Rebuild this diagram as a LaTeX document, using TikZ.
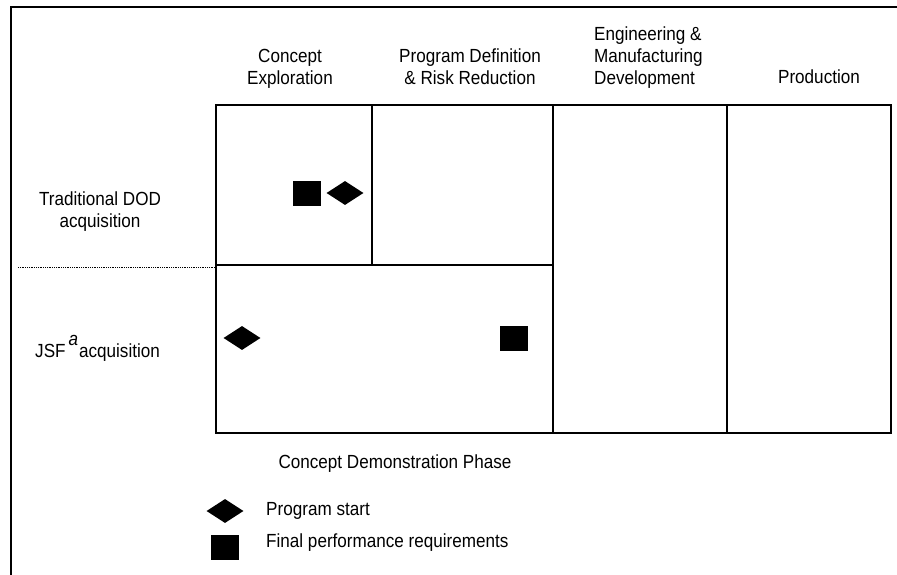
\documentclass[tikz,border=0pt]{standalone}
\usepackage{fontspec}
\setmainfont{Liberation Sans}[FakeStretch=0.9]
\usetikzlibrary{shapes.geometric}
\newcommand{\cstack}[1]{\begin{tabular}[t]{@{}c@{}}#1\end{tabular}}
\newcommand{\lstack}[1]{\begin{tabular}[t]{@{}l@{}}#1\end{tabular}}
\begin{document}
\begin{tikzpicture}[x=1pt,y=-1pt,
  lbl/.style={font=\fontsize{19}{22}\selectfont, inner sep=0pt, anchor=base},
  cell/.style={draw, line width=1.6pt},
  dia/.style={diamond, fill=black, draw=none, minimum width=37pt, minimum height=24pt, inner sep=0pt, aspect=1.55},
  sq/.style={rectangle, fill=black, draw=none, minimum width=28pt, minimum height=25pt, inner sep=0pt}]
\useasboundingbox (0,0) rectangle (897,575);
% outer frame
\draw[line width=1.3pt] (11,575) -- (11,7) -- (897,7);
% grid
\draw[cell] (216,105) rectangle (372,265);
\draw[cell] (372,105) rectangle (553,265);
\draw[cell] (216,265) rectangle (553,433);
\draw[cell] (553,105) rectangle (727,433);
\draw[cell] (727,105) rectangle (891,433);
\coordinate (dl) at (18,267);
\coordinate (dr) at (216,267);
\draw[densely dotted, line width=0.8pt] (dl) -- (dr);
% headers
\node[lbl] (h1) at (290,63) {\cstack{Concept\\Exploration}};
\node[lbl] (h2) at (470,63) {\cstack{Program Definition\\\& Risk Reduction}};
\node[lbl, anchor=base west] (h3) at (594,41) {\lstack{Engineering \&\\Manufacturing\\Development}};
\node[lbl] (h4) at (819,84) {Production};
% row labels
\node[lbl] (r1) at (100,205) {\cstack{Traditional DOD\\acquisition}};
\node[lbl, anchor=base west] (r2) at (35,357) {JSF\hspace{3pt}\raisebox{12pt}{\itshape a}\hspace{1pt}acquisition};
% markers
\node[sq] (s1) at (307,193) {};
\node[dia] (d1) at (345,193) {};
\node[dia] (d2) at (242,338) {};
\node[sq] (s2) at (514,338) {};
% footer
\node[lbl] (cdp) at (395,468) {Concept Demonstration Phase};
\node[dia] (ld) at (225,511) {};
\node[sq] (ls) at (225,547) {};
\node[lbl, anchor=base west] (lt1) at (266,515) {Program start};
\node[lbl, anchor=base west] (lt2) at (266,547) {Final performance requirements};
\end{tikzpicture}
\end{document}
